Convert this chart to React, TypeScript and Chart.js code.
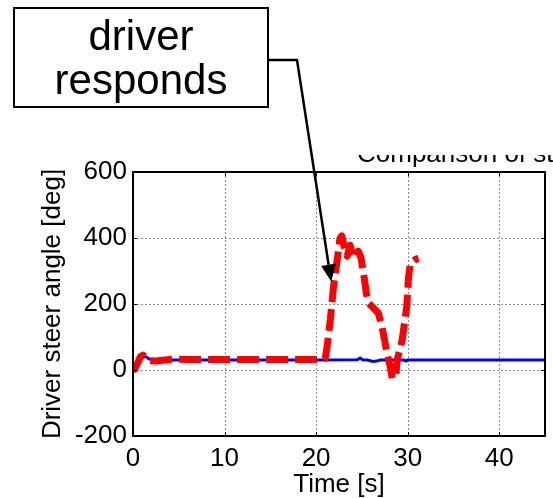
import React, { useEffect, useRef } from 'react';
import { Chart, registerables } from 'chart.js';

Chart.register(...registerables);

// ---- data ----
const redTime = [0, 0.4, 0.8, 1.1, 1.4, 1.8, 2.5, 3.5, 4.5, 6, 10, 15, 20, 21.0, 21.2, 21.55, 21.9, 22.3, 22.6, 22.8, 23.1, 23.4, 23.7, 24.0, 24.3, 24.6, 24.9, 25.2, 25.5, 25.75, 26.3, 26.8, 27.2, 27.75, 28.1, 28.3, 28.7, 28.85, 29.4, 29.9, 30.1, 30.3, 30.85, 31.2];
const redAngle = [-5, 15, 40, 45, 38, 28, 27, 30, 33, 32, 32, 32, 32, 35, 71, 152, 252, 333, 399, 406, 370, 345, 378, 350, 340, 360, 340, 290, 230, 202, 187, 172, 131, 50, 10, -25, -20, 30, 91, 192, 283, 323, 335, 338];

const blueTime = [0, 0.5, 1.0, 1.4, 1.8, 2.5, 5, 10, 15, 20, 24.5, 24.8, 25.1, 25.6, 26.2, 26.6, 27.0, 29.6, 29.8, 30.0, 35, 40, 45];
const blueAngle = [0, 25, 42, 40, 33, 30, 30, 30, 30, 30, 31, 36, 31, 30, 26, 27, 30, 30, 27, 30, 30, 30, 30];

const xTicks = [0, 10, 20, 30, 40];
const yTicks = [-200, 0, 200, 400, 600];
const xRange = [0, 45];
const yRange = [-200, 600];

const xTitle = 'Time [s]';
const yTitle = 'Driver steer angle [deg]';
const chartTitle = 'Comparison of steer angle';
const annotationLines = ['driver', 'responds'];
const arrowTarget = { x: 21.65, y: 268 };

const FONT = 'Liberation Sans, Arial, Helvetica, sans-serif';

const framePlugin = {
  id: 'frame',
  beforeDatasetsDraw(chart: any) {
    const { ctx, chartArea: a, scales } = chart;
    ctx.save();
    ctx.strokeStyle = '#8a8a8a';
    ctx.lineWidth = 1;
    ctx.setLineDash([2, 2]);
    xTicks.forEach((v) => {
      const px = Math.round(scales.x.getPixelForValue(v)) + 0.5;
      if (px <= a.left + 1 || px >= a.right - 1) return;
      ctx.beginPath();
      ctx.moveTo(px, a.top);
      ctx.lineTo(px, a.bottom);
      ctx.stroke();
    });
    yTicks.forEach((v) => {
      const py = Math.round(scales.y.getPixelForValue(v)) + 0.5;
      if (py <= a.top + 1 || py >= a.bottom - 1) return;
      ctx.beginPath();
      ctx.moveTo(a.left, py);
      ctx.lineTo(a.right, py);
      ctx.stroke();
    });
    ctx.restore();
  },
  afterDatasetsDraw(chart: any) {
    const { ctx, chartArea: a, scales } = chart;
    ctx.save();
    ctx.strokeStyle = '#000';
    ctx.lineWidth = 2;
    ctx.setLineDash([]);
    ctx.strokeRect(a.left, a.top, a.right - a.left, a.bottom - a.top);
    ctx.lineWidth = 1;
    const tl = 4;
    xTicks.forEach((v) => {
      const px = Math.round(scales.x.getPixelForValue(v)) + 0.5;
      ctx.beginPath();
      ctx.moveTo(px, a.bottom);
      ctx.lineTo(px, a.bottom - tl);
      ctx.moveTo(px, a.top);
      ctx.lineTo(px, a.top + tl);
      ctx.stroke();
    });
    yTicks.forEach((v) => {
      const py = Math.round(scales.y.getPixelForValue(v)) + 0.5;
      ctx.beginPath();
      ctx.moveTo(a.left, py);
      ctx.lineTo(a.left + tl, py);
      ctx.moveTo(a.right, py);
      ctx.lineTo(a.right - tl, py);
      ctx.stroke();
    });
    ctx.restore();
  },
  afterDraw(chart: any) {
    const { ctx, scales } = chart;
    // clipped title
    ctx.save();
    ctx.beginPath();
    ctx.rect(0, 155, chart.width, 16);
    ctx.clip();
    ctx.fillStyle = '#000';
    ctx.font = `26px ${FONT}`;
    ctx.textAlign = 'left';
    ctx.textBaseline = 'alphabetic';
    ctx.fillText(chartTitle, 357, 162);
    ctx.restore();

    // annotation box
    ctx.save();
    const bx = 14, by = 8, bw = 254, bh = 99;
    ctx.fillStyle = '#fff';
    ctx.fillRect(bx, by, bw, bh);
    ctx.strokeStyle = '#000';
    ctx.lineWidth = 2;
    ctx.strokeRect(bx, by, bw, bh);
    ctx.fillStyle = '#000';
    ctx.font = `42px ${FONT}`;
    ctx.textAlign = 'center';
    ctx.textBaseline = 'alphabetic';
    ctx.fillText(annotationLines[0], bx + bw / 2, 50);
    ctx.fillText(annotationLines[1], bx + bw / 2, 94);

    // connector + arrow
    const tx = scales.x.getPixelForValue(arrowTarget.x);
    const ty = scales.y.getPixelForValue(arrowTarget.y);
    const kx = 297, ky = 60;
    const ang = Math.atan2(ty - ky, tx - kx);
    const hl = 17, hw = 7.5;
    const baseX = tx - hl * Math.cos(ang);
    const baseY = ty - hl * Math.sin(ang);
    ctx.lineWidth = 2.5;
    ctx.lineJoin = 'miter';
    ctx.beginPath();
    ctx.moveTo(bx + bw, ky);
    ctx.lineTo(kx, ky);
    ctx.lineTo(baseX, baseY);
    ctx.stroke();
    ctx.beginPath();
    ctx.moveTo(tx, ty);
    ctx.lineTo(baseX + hw * Math.sin(ang), baseY - hw * Math.cos(ang));
    ctx.lineTo(baseX - hw * Math.sin(ang), baseY + hw * Math.cos(ang));
    ctx.closePath();
    ctx.fill();
    ctx.restore();
  },
};

export default function App() {
  const ref = useRef<HTMLCanvasElement | null>(null);
  useEffect(() => {
    if (!ref.current) return;
    const tickFont = { family: FONT, size: 26 };
    const chart = new Chart(ref.current, {
      type: 'line',
      data: {
        datasets: [
          {
            label: 'driver',
            data: redTime.map((x, i) => ({ x, y: redAngle[i] })),
            borderColor: '#ff0000',
            borderWidth: 7,
            borderDash: [22, 7],
            borderCapStyle: 'butt',
            borderJoinStyle: 'round',
            pointRadius: 0,
            fill: false,
            tension: 0,
          },
          {
            label: 'model',
            data: blueTime.map((x, i) => ({ x, y: blueAngle[i] })),
            borderColor: '#0000ff',
            borderWidth: 3,
            pointRadius: 0,
            fill: false,
            tension: 0,
          },
        ],
      },
      options: {
        animation: false,
        responsive: false,
        devicePixelRatio: 1,
        layout: { padding: { left: 0, right: 8, top: 172, bottom: 0 } },
        plugins: { legend: { display: false }, tooltip: { enabled: false }, title: { display: false } },
        scales: {
          x: {
            type: 'linear',
            min: xRange[0],
            max: xRange[1],
            afterBuildTicks: (s: any) => {
              s.ticks = xTicks.map((v) => ({ value: v }));
            },
            afterFit: (s: any) => {
              s.height = 62;
            },
            grid: { display: false, drawTicks: false, tickLength: 0 },
            border: { display: false },
            ticks: { font: tickFont, color: '#000', padding: 7, maxRotation: 0, autoSkip: false },
            title: { display: true, text: xTitle, color: '#000', font: { family: FONT, size: 26, lineHeight: 1 }, padding: 0 },
          },
          y: {
            type: 'linear',
            min: yRange[0],
            max: yRange[1],
            afterBuildTicks: (s: any) => {
              s.ticks = yTicks.map((v) => ({ value: v }));
            },
            afterFit: (s: any) => {
              s.width = 133;
            },
            grid: { display: false, drawTicks: false, tickLength: 0 },
            border: { display: false },
            ticks: { font: tickFont, color: '#000', padding: 6, autoSkip: false },
            title: { display: true, text: yTitle, color: '#000', font: { family: FONT, size: 26, lineHeight: 1 }, padding: { top: 40, bottom: 0 } },
          },
        },
      },
      plugins: [framePlugin],
    } as any);
    return () => chart.destroy();
  }, []);
  return (
    <div style={{ position: 'fixed', left: 0, top: 0, width: 553, height: 498, background: '#fff' }}>
      <canvas ref={ref} width={553} height={498} style={{ display: 'block' }} />
    </div>
  );
}
